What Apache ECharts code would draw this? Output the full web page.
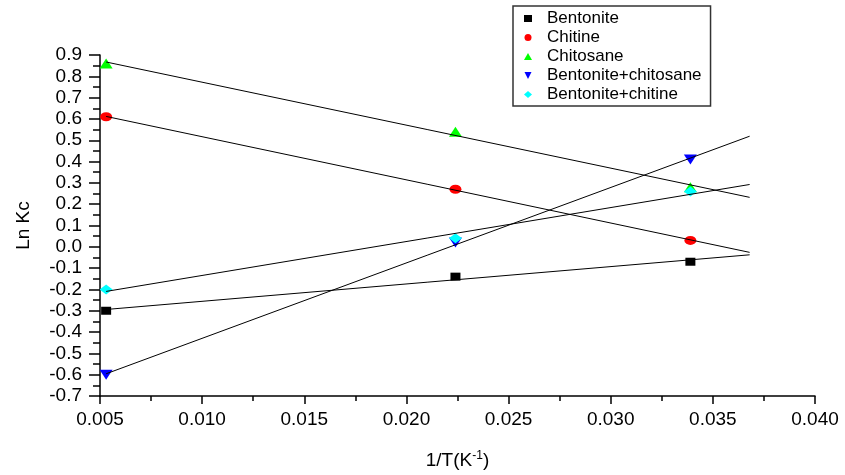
<!DOCTYPE html>
<html>
<head>
<meta charset="utf-8">
<script src="https://cdn.jsdelivr.net/npm/echarts@6/dist/echarts.min.js"></script>
<style>html,body{margin:0;padding:0;background:#fff}#c{width:845px;height:475px}</style>
</head>
<body>
<div id="c"></div>
<script>
const xValues = [0.0053, 0.0224, 0.0339];
const seriesNames = ['Bentonite', 'Chitine', 'Chitosane', 'Bentonite+chitosane', 'Bentonite+chitine'];
const bentonite = [-0.30, -0.14, -0.07];
const chitine = [0.61, 0.27, 0.03];
const chitosane = [0.86, 0.54, 0.28];
const bentChitosane = [-0.60, 0.02, 0.41];
const bentChitine = [-0.20, 0.04, 0.26];
const fitEndX = 0.0368;

const allValues = [bentonite, chitine, chitosane, bentChitosane, bentChitine];
const colors = ['#000000', '#ff0000', '#00ff00', '#0000ff', '#00ffff'];
const symbols = ['rect', 'circle', 'triangle', 'path://M0,0 L10,0 L5,10 Z', 'diamond'];
const sizes = [[10, 8], [12, 9], [13, 10], [13, 10], [13, 10]];

function fit(xs, ys) {
  const n = xs.length;
  const mx = xs.reduce((a, b) => a + b, 0) / n;
  const my = ys.reduce((a, b) => a + b, 0) / n;
  let sxy = 0, sxx = 0;
  for (let i = 0; i < n; i++) { sxy += (xs[i] - mx) * (ys[i] - my); sxx += (xs[i] - mx) ** 2; }
  const b = sxy / sxx, a = my - b * mx;
  return [[xs[0], a + b * xs[0]], [fitEndX, a + b * fitEndX]];
}

const series = [];
allValues.forEach((vals, i) => {
  series.push({
    name: seriesNames[i], type: 'scatter', symbol: symbols[i], symbolSize: sizes[i],
    itemStyle: { color: colors[i], opacity: 1 }, z: 2,
    data: xValues.map((x, j) => [x, vals[j]])
  });
});
allValues.forEach((vals, i) => {
  series.push({
    name: seriesNames[i] + ' fit', type: 'line', showSymbol: false, symbol: 'none', z: 3,
    lineStyle: { color: '#000', width: 1 }, silent: true,
    data: fit(xValues, vals)
  });
});

const chart = echarts.init(document.getElementById('c'));
const font = 'Arial, "Liberation Sans", sans-serif';
chart.setOption({
  animation: false,
  textStyle: { fontFamily: font },
  grid: { left: 100, right: 30, top: 55, bottom: 76 },
  legend: {
    data: seriesNames,
    orient: 'vertical', left: 513, top: 6,
    backgroundColor: '#fff', borderColor: '#333', borderWidth: 1.5,
    padding: [4, 9, 3, 11], itemGap: 2, itemWidth: 8, itemHeight: 7,
    itemStyle: { opacity: 1 },
    textStyle: { fontSize: 17, color: '#000', fontFamily: font, padding: [0, 0, 0, 10], lineHeight: 15 }
  },
  xAxis: {
    type: 'value', min: 0.005, max: 0.04, interval: 0.005,
    name: '1/T(K{sup|-1})', nameLocation: 'middle', nameGap: 54,
    nameTextStyle: { fontSize: 19, color: '#000', fontFamily: font, rich: { sup: { fontSize: 12, verticalAlign: 'top', padding: [0, 0, 9, 0] } } },
    axisLine: { onZero: false, lineStyle: { color: '#000', width: 1.5 } },
    axisTick: { length: 8, lineStyle: { color: '#000', width: 1.5 } },
    minorTick: { show: true, splitNumber: 2, length: 5, lineStyle: { color: '#000', width: 1.5 } },
    axisLabel: { fontSize: 19, color: '#000', margin: 14, formatter: v => v.toFixed(3) },
    splitLine: { show: false }
  },
  yAxis: {
    type: 'value', min: -0.7, max: 0.9, interval: 0.1,
    name: 'Ln Kc', nameLocation: 'middle', nameGap: 67,
    nameTextStyle: { fontSize: 19, color: '#000', fontFamily: font },
    axisLine: { show: true, onZero: false, lineStyle: { color: '#000', width: 1.5 } },
    axisTick: { show: true, length: 11, lineStyle: { color: '#000', width: 1.5 } },
    minorTick: { show: true, splitNumber: 2, length: 7, lineStyle: { color: '#000', width: 1.5 } },
    axisLabel: { fontSize: 19, color: '#000', margin: 18, formatter: v => v.toFixed(1) },
    splitLine: { show: false }
  },
  series: series
});
</script>
</body>
</html>
